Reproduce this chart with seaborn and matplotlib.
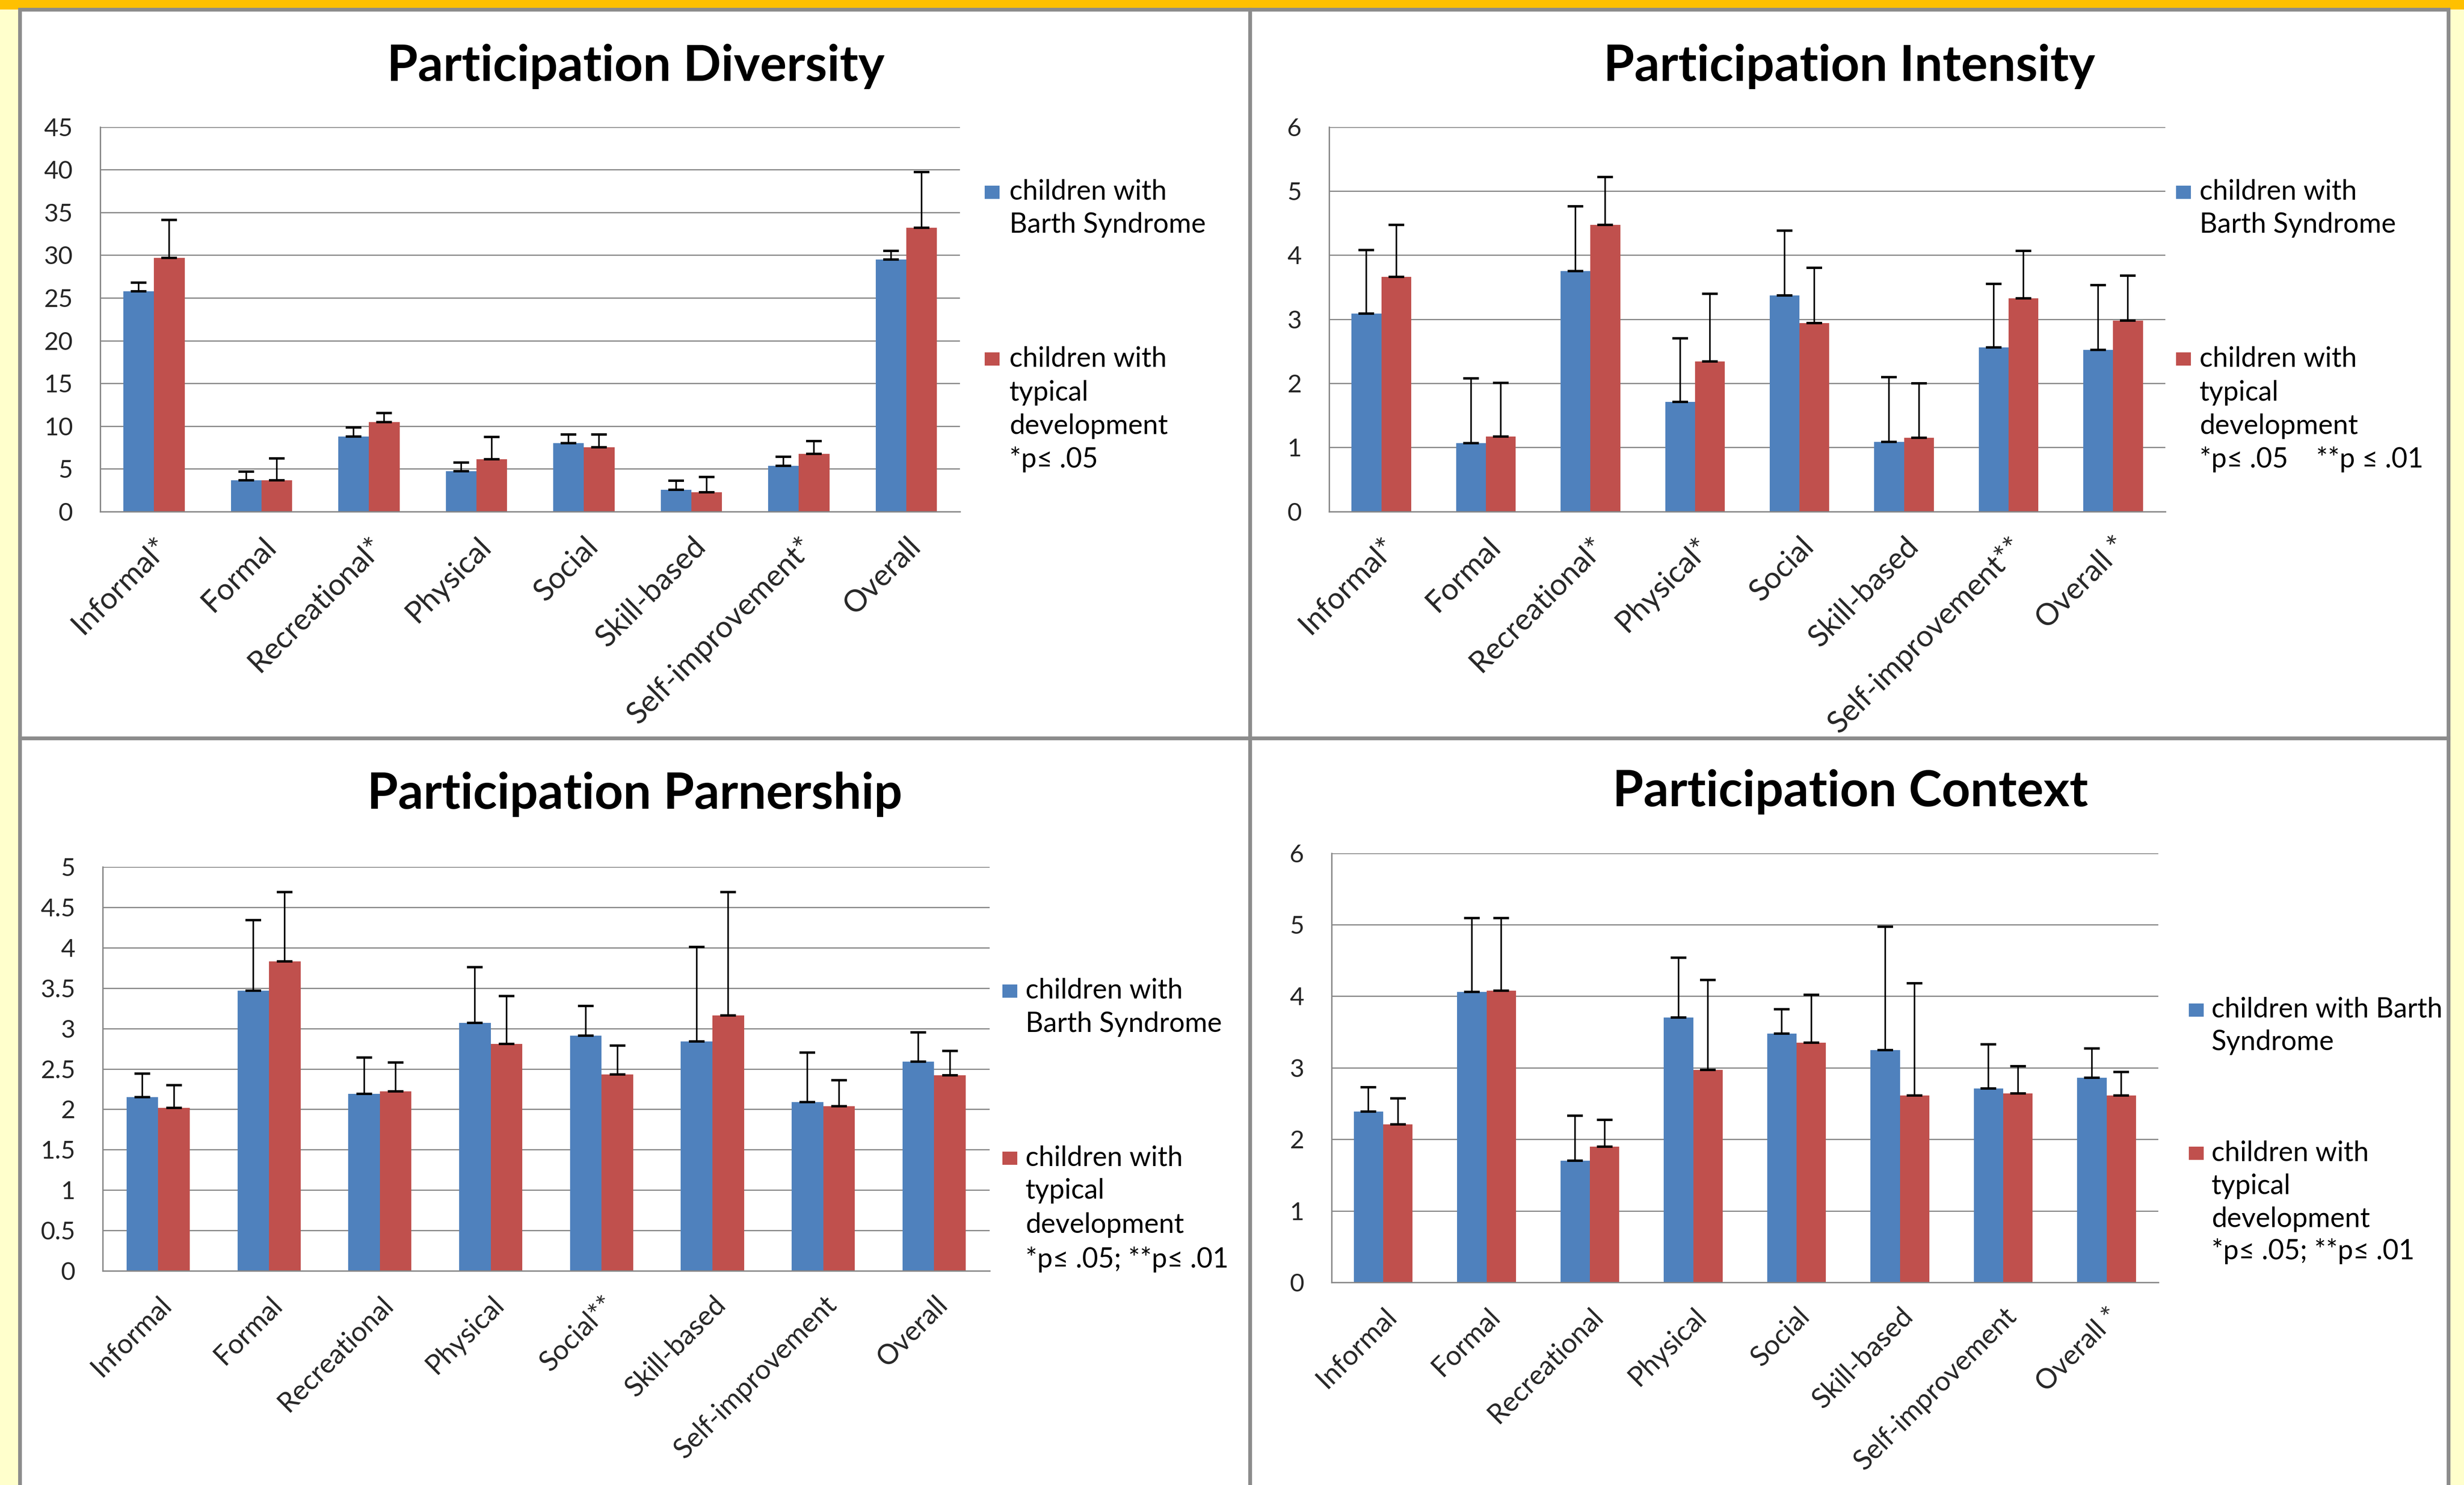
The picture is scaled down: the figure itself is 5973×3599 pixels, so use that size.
import numpy as np
import pandas as pd
import seaborn as sns
import matplotlib.pyplot as plt
from matplotlib.patches import Rectangle

# ---- data ----
groups = ['children with Barth Syndrome', 'children with typical development']

div_cats = ['Informal*', 'Formal', 'Recreational*', 'Physical', 'Social',
            'Skill-based', 'Self-improvement*', 'Overall']
div_barth = [25.75, 3.66, 8.77, 4.72, 7.99, 2.56, 5.34, 29.5]
div_barth_err = [1.05, 1.03, 1.06, 1.04, 1.04, 1.03, 1.07, 1.0]
div_typical = [29.67, 3.66, 10.48, 6.11, 7.54, 2.26, 6.76, 33.22]
div_typical_err = [4.43, 2.55, 1.07, 2.62, 1.49, 1.78, 1.49, 6.51]

int_cats = ['Informal*', 'Formal', 'Recreational*', 'Physical*', 'Social',
            'Skill-based', 'Self-improvement**', 'Overall *']
int_barth = [3.09, 1.07, 3.75, 1.71, 3.37, 1.09, 2.56, 2.52]
int_barth_err = [0.99, 1.01, 1.01, 0.99, 1.01, 1.01, 0.99, 1.01]
int_typical = [3.66, 1.17, 4.47, 2.34, 2.94, 1.15, 3.33, 2.98]
int_typical_err = [0.81, 0.84, 0.75, 1.06, 0.86, 0.85, 0.74, 0.70]

par_cats = ['Informal', 'Formal', 'Recreational', 'Physical', 'Social**',
            'Skill-based', 'Self-improvement', 'Overall']
par_barth = [2.15, 3.47, 2.19, 3.07, 2.91, 2.84, 2.09, 2.59]
par_barth_err = [0.29, 0.87, 0.45, 0.69, 0.37, 1.17, 0.61, 0.36]
par_typical = [2.02, 3.83, 2.22, 2.81, 2.43, 3.16, 2.04, 2.42]
par_typical_err = [0.28, 0.86, 0.36, 0.59, 0.36, 1.53, 0.32, 0.30]

con_cats = ['Informal', 'Formal', 'Recreational', 'Physical', 'Social',
            'Skill-based', 'Self-improvement', 'Overall *']
con_barth = [2.39, 4.06, 1.70, 3.70, 3.48, 3.25, 2.71, 2.86]
con_barth_err = [0.34, 1.03, 0.63, 0.84, 0.34, 1.72, 0.62, 0.41]
con_typical = [2.21, 4.08, 1.90, 2.97, 3.35, 2.61, 2.64, 2.61]
con_typical_err = [0.36, 1.01, 0.37, 1.26, 0.67, 1.57, 0.38, 0.33]

BLUE = '#4F81BD'
RED = '#C0504D'
GRID = '#868686'

W, H = 5973, 3599

sns.set_theme(style='white')
plt.rcParams['font.family'] = ['Lato', 'DejaVu Sans']

fig = plt.figure(figsize=(W / 300, H / 300), dpi=300)
fig.patch.set_facecolor('#FFFFCC')


def fx(px):
    return px / W


def fy(px):
    # pixel row from top -> figure fraction
    return 1 - px / H


# background: gold stripe + four white panels
fig.add_artist(Rectangle((0, fy(23)), 1, 23 / H, transform=fig.transFigure,
                         facecolor='#FFC000', edgecolor='none', zorder=0))
for (x0, x1, y0, y1) in [(48, 3030, 23, 1789), (3030, 5935, 23, 1789),
                         (48, 3030, 1789, 3640), (3030, 5935, 1789, 3640)]:
    fig.add_artist(Rectangle((fx(x0), fy(y1)), fx(x1 - x0), (y1 - y0) / H,
                             transform=fig.transFigure, facecolor='white',
                             edgecolor='#8C8C8C', linewidth=2.2, zorder=0))


def draw_panel(rect, cats, barth, barth_err, typical, typical_err,
               ymax, ystep, title, title_xy, leg_sq_x, leg_txt_x,
               leg_top, leg_bottom, cat_size=17):
    ax = fig.add_axes(rect)
    df = pd.DataFrame({
        'cat': cats + cats,
        'val': barth + typical,
        'grp': [groups[0]] * len(cats) + [groups[1]] * len(cats),
    })
    sns.barplot(data=df, x='cat', y='val', hue='grp', palette=[BLUE, RED],
                width=0.57, errorbar=None, saturation=1, linewidth=0,
                legend=False, ax=ax)

    # one-sided (upper) error bars
    for cont, errs in zip(ax.containers, [barth_err, typical_err]):
        xs = [b.get_x() + b.get_width() / 2 for b in cont]
        ys = [b.get_height() for b in cont]
        ax.errorbar(xs, ys, yerr=[np.zeros(len(errs)), errs], fmt='none',
                    ecolor='black', elinewidth=0.9, capsize=4.5,
                    capthick=1.4, zorder=5)

    ax.set_xlim(-0.5, len(cats) - 0.5)
    ax.set_ylim(0, ymax)
    yt = np.arange(0, ymax + ystep / 2, ystep)
    ax.set_yticks(yt)
    ax.set_yticklabels([f'{v:g}' for v in yt], fontsize=14.5)
    ax.set_xticks(range(len(cats)))
    ax.set_xticklabels(cats, rotation=45, ha='right', va='top',
                       rotation_mode='anchor', fontsize=cat_size)
    ax.set_xlabel('')
    ax.set_ylabel('')
    ax.tick_params(axis='both', length=0)
    ax.tick_params(axis='y', pad=16)
    ax.tick_params(axis='x', pad=12)
    ax.yaxis.grid(True, color=GRID, linewidth=0.7)
    ax.set_axisbelow(True)
    for s in ['top', 'right']:
        ax.spines[s].set_visible(False)
    for s in ['left', 'bottom']:
        ax.spines[s].set_color(GRID)
        ax.spines[s].set_linewidth(0.8)
    ax.set_facecolor('white')

    fig.text(fx(title_xy[0]), fy(title_xy[1]), title, ha='center',
             va='center', fontsize=29, fontweight='bold', color='black')

    # legend drawn like the Office original: square beside first line
    for color, lines in [(BLUE, leg_top), (RED, leg_bottom)]:
        base0 = lines[0][1]
        fig.add_artist(Rectangle((fx(leg_sq_x), fy(base0 - 2)), fx(36),
                                 32 / H, transform=fig.transFigure,
                                 facecolor=color, edgecolor='none'))
        for txt, base in lines:
            fig.text(fx(leg_txt_x), fy(base), txt, ha='left',
                     va='baseline', fontsize=16, color='black')
    return ax


draw_panel([0.0407, 0.6555, 0.3489, 0.2590], div_cats, div_barth,
           div_barth_err, div_typical, div_typical_err, 45, 5,
           'Participation Diversity', (1541, 161), 2387, 2447,
           [('children with', 484), ('Barth Syndrome', 564)],
           [('children with', 888), ('typical', 971),
            ('development', 1052), ('*p\u2264 .05', 1133)], cat_size=17.5)

draw_panel([0.5394, 0.6555, 0.3394, 0.2590], int_cats, int_barth,
           int_barth_err, int_typical, int_typical_err, 6, 1,
           'Participation Intensity', (4483, 161), 5275, 5332,
           [('children with', 484), ('Barth Syndrome', 564)],
           [('children with', 888), ('typical', 971),
            ('development', 1052), ('*p\u2264 .05    **p \u2264 .01', 1133)],
           cat_size=17.5)

draw_panel([0.0417, 0.1442, 0.3599, 0.2720], par_cats, par_barth,
           par_barth_err, par_typical, par_typical_err, 5, 0.5,
           'Participation Parnership', (1539, 1925), 2430, 2486,
           [('children with', 2420), ('Barth Syndrome', 2501)],
           [('children with', 2825), ('typical', 2905),
            ('development', 2988), ('*p\u2264 .05; **p\u2264 .01', 3072)],
           cat_size=16)

draw_panel([0.5404, 0.1364, 0.3355, 0.2891], con_cats, con_barth,
           con_barth_err, con_typical, con_typical_err, 6, 1,
           'Participation Context', (4485, 1919), 5306, 5361,
           [('children with Barth', 2466), ('Syndrome', 2545)],
           [('children with', 2813), ('typical', 2894),
            ('development', 2974), ('*p\u2264 .05; **p\u2264 .01', 3052)],
           cat_size=16)

fig.savefig('out.png', dpi=300, facecolor=fig.get_facecolor())
